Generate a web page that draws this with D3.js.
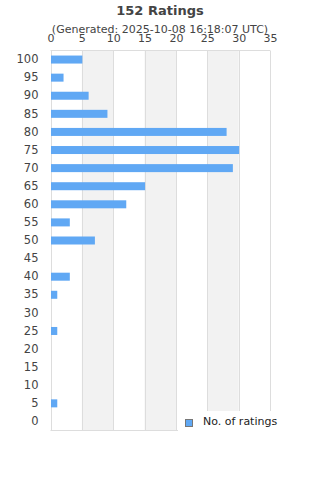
<!DOCTYPE html>
<html><head><meta charset="utf-8">
<script src="https://cdn.jsdelivr.net/npm/d3@7"></script>
<style>body{margin:0;background:#fff}svg{display:block;font-family:"DejaVu Sans",sans-serif}</style>
</head><body><svg id="c" width="320" height="480"></svg>
<script>
const categories = ["100","95","90","85","80","75","70","65","60","55","50","45","40","35","30","25","20","15","10","5","0"];
const ratings = [5,2,6,9,28,30,29,15,12,3,7,0,3,1,0,1,0,0,0,1,0];
const xTicks = [0,5,10,15,20,25,30,35];
const titleText = "152 Ratings";
const subtitleText = "(Generated: 2025-10-08 16:18:07 UTC)";
const seriesName = "No. of ratings";

const svg = d3.select("#c");
const m = {l:50.5, r:270, t:50.5, b:430.5};
const x = d3.scaleLinear().domain([0,35]).range([m.l, m.r]);
const y = d3.scaleBand().domain(categories).range([m.t, m.b]);

// alternating bands
const bands = d3.range(5, 35, 10);
svg.selectAll("rect.band").data(bands).enter().append("rect")
  .attr("x", d => x(d)).attr("y", m.t).attr("width", d => x(d+5)-x(d)).attr("height", m.b-m.t)
  .attr("fill", "#f2f2f2");
// grid lines
svg.selectAll("line.grid").data(xTicks).enter().append("line")
  .attr("x1", d => Math.round(x(d))+0.5).attr("x2", d => Math.round(x(d))+0.5)
  .attr("y1", m.t).attr("y2", m.b).attr("stroke", "#dddddd").attr("stroke-width", 1);
svg.append("line").attr("x1", m.l).attr("x2", m.r).attr("y1", m.t).attr("y2", m.t).attr("stroke", "#dddddd");
svg.append("line").attr("x1", m.l).attr("x2", m.r).attr("y1", m.b).attr("y2", m.b).attr("stroke", "#dddddd");

// bars
const bh = 8;
svg.selectAll("rect.bar").data(categories).enter().append("rect")
  .attr("x", x(0)+0.5)
  .attr("y", d => y(d) + y.bandwidth()/2 - bh/2)
  .attr("width", (d,i) => Math.max(0, x(ratings[i]) - x(0)))
  .attr("height", bh)
  .attr("fill", "#60a8f4");

// x axis top
const xa = svg.append("g").attr("transform", `translate(0,41.5)`)
  .call(d3.axisTop(x).tickValues(xTicks).tickSize(0).tickPadding(0));
xa.select(".domain").remove();
xa.selectAll("text").attr("fill", "#444").attr("font-size", 11).attr("font-family", "DejaVu Sans");

// y axis
const ya = svg.append("g").attr("transform", `translate(${m.l-12},0)`)
  .call(d3.axisLeft(y).tickSize(0).tickPadding(0));
ya.select(".domain").remove();
ya.selectAll("text").attr("fill", "#444").attr("font-size", 11.5).attr("font-family", "DejaVu Sans");

// titles
svg.append("text").attr("x", 160).attr("y", 15).attr("text-anchor", "middle")
  .attr("font-size", 13).attr("font-weight", "bold").attr("fill", "#444").text(titleText);
svg.append("text").attr("x", 160).attr("y", 33).attr("text-anchor", "middle")
  .attr("font-size", 11).attr("fill", "#444").text(subtitleText);

// legend (white box over plot)
svg.append("rect").attr("x", 178).attr("y", 411).attr("width", 112).attr("height", 25).attr("fill", "#fff");
svg.append("rect").attr("x", 185.5).attr("y", 419.5).attr("width", 7).attr("height", 7)
  .attr("fill", "#60a8f4").attr("stroke", "#777");
svg.append("text").attr("x", 203).attr("y", 425).attr("font-size", 11).attr("fill", "#222").text(seriesName);
</script></body></html>
